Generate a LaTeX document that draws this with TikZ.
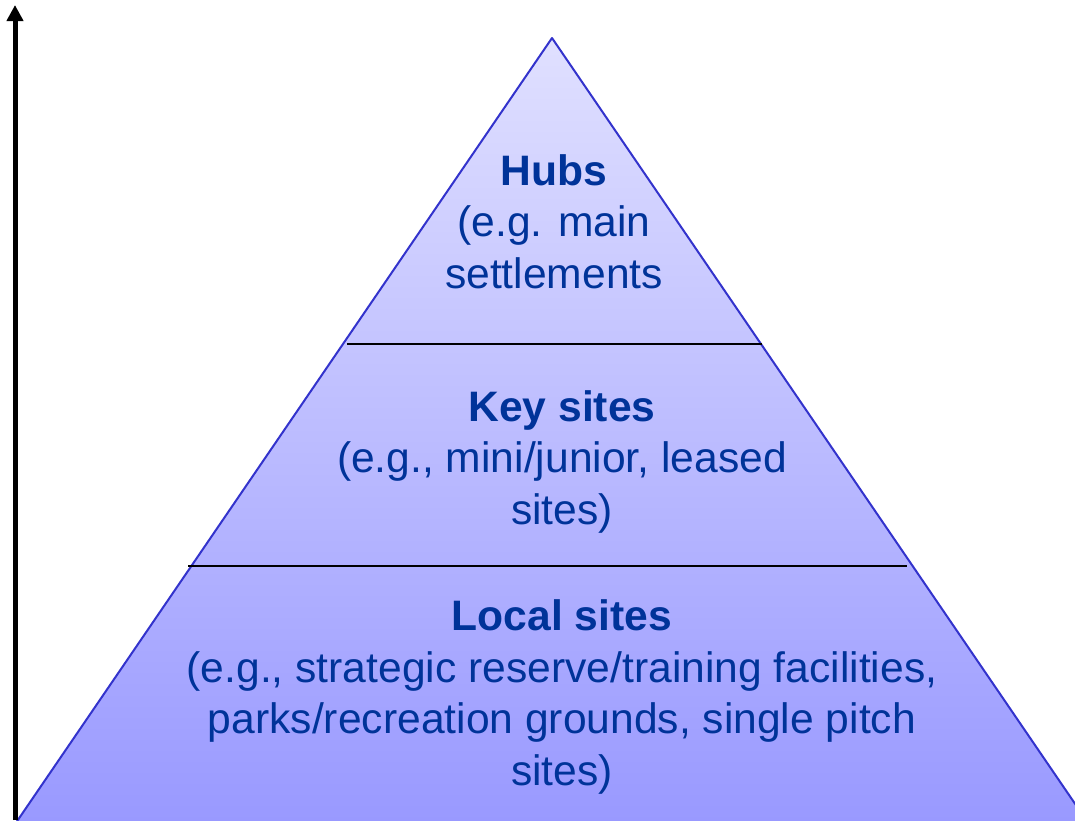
\documentclass[tikz,border=0pt]{standalone}
\usepackage{fontspec}
\setmainfont{Liberation Sans}
\usetikzlibrary{arrows.meta}

\definecolor{tiertext}{RGB}{0,51,153}
\definecolor{tieredge}{RGB}{51,51,204}
\definecolor{tiertop}{RGB}{224,224,255}
\definecolor{tierbottom}{RGB}{153,153,255}

\tikzset{
  tierlabel/.style={text=tiertext,align=center,inner sep=0,anchor=base,
    font=\fontsize{42.6}{51.5}\selectfont},
}

\begin{document}
\begin{tikzpicture}[x=1pt,y=-1pt]

\useasboundingbox (0,0) rectangle (1075,820);

\begin{scope}

\clip (0,0) rectangle (1075,820);

\shade [top color=tiertop,bottom color=tierbottom] (552,38) -- (16.5,822) -- (1087.5,822) -- cycle;
\draw [tieredge,line width=2,line join=round] (552,38) -- (16.5,822) -- (1087.5,822) -- cycle;

\draw [black,line width=1.5] (347,344) -- (762,344);
\draw [black,line width=1.5] (188,566) -- (907,566);

\end{scope}

\draw [line width=5,-{Triangle[width=16,length=16]}] (15,820) -- (15,5);

% base anchor sits on the last line
\node [tierlabel] (hubs) at (554,288) {\textbf{Hubs}\\(e.g. main\\settlements};
\node [tierlabel] (keysites) at (562,524) {\textbf{Key sites}\\(e.g., mini/junior, leased\\sites)};
\node [tierlabel] (localsites) at (562,785) {\textbf{Local sites}\\(e.g., strategic reserve/training facilities,\\parks/recreation grounds, single pitch\\sites)};

\end{tikzpicture}
\end{document}
